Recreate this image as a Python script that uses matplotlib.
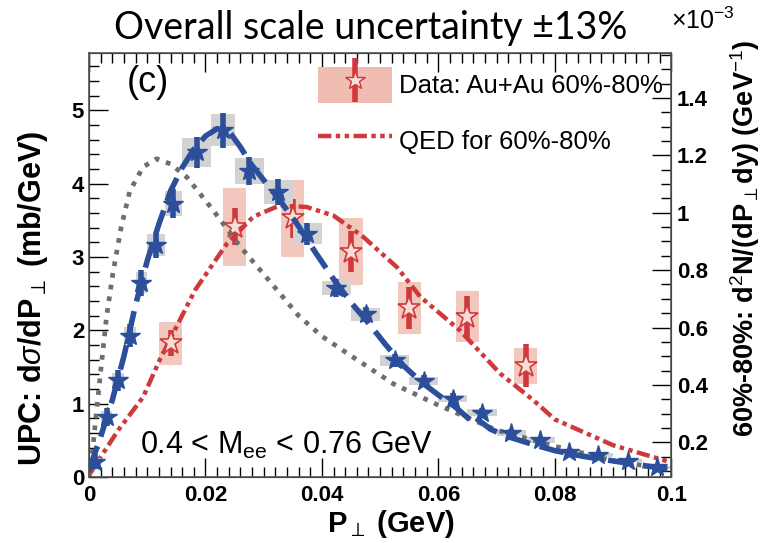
import numpy as np
import matplotlib
matplotlib.use('Agg')
import matplotlib.pyplot as plt
from matplotlib.patches import Rectangle
from matplotlib.lines import Line2D
from matplotlib.legend_handler import HandlerTuple

plt.rcParams['font.family'] = ['Liberation Sans', 'DejaVu Sans']
plt.rcParams['mathtext.fontset'] = 'custom'
plt.rcParams['mathtext.rm'] = 'Liberation Sans'
plt.rcParams['mathtext.bf'] = 'Liberation Sans:bold'
plt.rcParams['mathtext.it'] = 'Liberation Sans:italic'

# UPC data (left axis, mb/GeV)
upc_x = [0.001, 0.003, 0.005, 0.007, 0.009, 0.0115, 0.0145, 0.0185, 0.023, 0.0275,
         0.0325, 0.0375, 0.0425, 0.0475, 0.0525, 0.0575, 0.0625, 0.0675, 0.0725, 0.0775,
         0.0825, 0.0875, 0.0925, 0.0975]
upc_y = [0.21, 0.82, 1.32, 1.93, 2.65, 3.16, 3.73, 4.43, 4.73, 4.17,
         3.89, 3.32, 2.58, 2.22, 1.59, 1.31, 1.07, 0.88, 0.6, 0.5,
         0.34, 0.3, 0.22, 0.13]
upc_stat = [0.1, 0.12, 0.14, 0.16, 0.18, 0.17, 0.2, 0.21, 0.24, 0.19,
            0.18, 0.15, 0.12, 0.1, 0.09, 0.08, 0.07, 0.06, 0.05, 0.05,
            0.04, 0.04, 0.03, 0.03]
upc_sys = [0.05, 0.08, 0.1, 0.12, 0.14, 0.15, 0.17, 0.2, 0.22, 0.18,
           0.16, 0.14, 0.1, 0.09, 0.07, 0.06, 0.05, 0.05, 0.04, 0.04,
           0.03, 0.03, 0.02, 0.02]
upc_halfbin = [0.001, 0.001, 0.001, 0.001, 0.001, 0.0015, 0.0015, 0.0025, 0.002, 0.0025,
               0.0025, 0.0025, 0.0025, 0.0025, 0.0025, 0.0025, 0.0025, 0.0025, 0.0025, 0.0025,
               0.0025, 0.0025, 0.0025, 0.0025]

# Au+Au 60%-80% data (right axis, x 1e-3 GeV^-1)
auau_x = [0.014, 0.025, 0.035, 0.045, 0.055, 0.065, 0.075]
auau_y = [0.545, 0.951, 0.98, 0.864, 0.667, 0.637, 0.466]
auau_stat = [0.045, 0.064, 0.067, 0.072, 0.073, 0.073, 0.075]
auau_sys = [0.075, 0.135, 0.135, 0.117, 0.09, 0.089, 0.063]
auau_halfbin = 0.002

# QED curve for UPC (blue dashed, left axis)
qed_upc_x = [0, 0.002, 0.004, 0.006, 0.008, 0.010, 0.012, 0.014, 0.016, 0.018, 0.020,
             0.022, 0.024, 0.026, 0.028, 0.030, 0.033, 0.036, 0.039, 0.042, 0.045,
             0.048, 0.051, 0.054, 0.057, 0.060, 0.063, 0.066, 0.0662, 0.0665, 0.069,
             0.072, 0.076, 0.080, 0.085, 0.090, 0.095, 0.1]
qed_upc_y = [0.1, 0.55, 1.05, 1.65, 2.35, 2.95, 3.45, 3.9, 4.22, 4.47, 4.65,
             4.75, 4.72, 4.5, 4.25, 4.05, 3.75, 3.42, 3.05, 2.7, 2.38,
             2.1, 1.8, 1.52, 1.3, 1.12, 0.95, 0.74, np.nan, 0.8, 0.65,
             0.55, 0.45, 0.36, 0.28, 0.22, 0.16, 0.1]

# other QED curve (gray dotted, left axis)
qed_gray_x = [0, 0.0005, 0.0013, 0.0022, 0.003, 0.0041, 0.0055, 0.007, 0.0093, 0.0116,
              0.014, 0.0168, 0.0213, 0.026, 0.0305, 0.036, 0.040, 0.0443, 0.0523, 0.06,
              0.07, 0.08, 0.09, 0.1]
qed_gray_y = [0, 0.28, 0.91, 1.59, 2.18, 2.78, 3.4, 3.9, 4.23, 4.34,
              4.27, 4.09, 3.64, 3.14, 2.72, 2.2, 1.92, 1.69, 1.27, 0.98,
              0.64, 0.42, 0.22, 0.1]

# QED for 60%-80% (red, right axis)
qed_cent_x = [0, 0.005, 0.0093, 0.0122, 0.0182, 0.0237, 0.0282, 0.0328, 0.0374, 0.042,
              0.0471, 0.0529, 0.0569, 0.0637, 0.0706, 0.0763, 0.08, 0.09, 0.1]
qed_cent_y = [0.086, 0.242, 0.358, 0.49, 0.73, 0.893, 0.986, 1.026, 1.02, 0.99,
              0.916, 0.81, 0.707, 0.59, 0.44, 0.347, 0.28, 0.19, 0.13]

blue = '#2b4f9b'
red = '#d0393b'
redbox = '#f0bdb3'
graybox = '#d2d2d2'
grayline = '#6e6e6e'

fig = plt.figure(figsize=(7.61, 5.43), dpi=100)
ax = fig.add_axes([0.117, 0.1215, 0.765, 0.7805])
ax2 = ax.twinx()

# gray sys boxes for UPC
for x, y, s, hb in zip(upc_x, upc_y, upc_sys, upc_halfbin):
    ax.add_patch(Rectangle((x - hb, y - s), 2 * hb, 2 * s, color=graybox, lw=0, zorder=1))

ax.plot(qed_gray_x, qed_gray_y, color=grayline, lw=3.4, dashes=(1, 1.5), zorder=2)
ax.plot(qed_upc_x, qed_upc_y, color=blue, lw=4, dashes=(4.5, 1.8), zorder=3)
ax.errorbar(upc_x, upc_y, yerr=upc_stat, fmt='none', ecolor=blue, elinewidth=4, zorder=4)
ax.plot(upc_x, upc_y, ls='none', marker='*', ms=15, color=blue, mec=blue, zorder=5)

# red data on right axis
for x, y, s in zip(auau_x, auau_y, auau_sys):
    ax2.add_patch(Rectangle((x - auau_halfbin, y - s), 2 * auau_halfbin, 2 * s,
                            color=redbox, alpha=0.85, lw=0, zorder=1))
ax2.plot(qed_cent_x, qed_cent_y, color=red, lw=3.2, dashes=(3, 1, 1, 1, 1, 1), zorder=2)
ax2.errorbar(auau_x, auau_y, yerr=auau_stat, fmt='none', ecolor=red, elinewidth=4, zorder=3)
ax2.plot(auau_x, auau_y, ls='none', marker='*', ms=17, mfc='#f8dcd6', mec=red, mew=1.2, zorder=4)

ax.set_xlim(0, 0.1)
ax.set_ylim(0, 5.78)
ax2.set_ylim(0.079, 1.556)

ax.set_xticks([0, 0.02, 0.04, 0.06, 0.08, 0.1])
ax.set_xticklabels(['0', '0.02', '0.04', '0.06', '0.08', '0.1'])
ax.set_xticks(np.arange(0, 0.1001, 0.002), minor=True)
ax.set_yticks([0, 1, 2, 3, 4, 5])
ax.set_yticks(np.arange(0, 5.78, 0.2), minor=True)
ax2.set_yticks([0.2, 0.4, 0.6, 0.8, 1.0, 1.2, 1.4])
ax2.set_yticklabels(['0.2', '0.4', '0.6', '0.8', '1', '1.2', '1.4'])
ax2.set_yticks(np.arange(0.1, 1.556, 0.05), minor=True)

for a in (ax, ax2):
    a.tick_params(which='both', direction='in', labelsize=16)
    a.tick_params(which='major', length=14, width=1)
    a.tick_params(which='minor', length=7, width=1)
ax.tick_params(axis='x', which='both', top=True, pad=6)
ax.tick_params(axis='y', which='both', right=False)
ax2.tick_params(axis='y', which='both', left=False, right=True, pad=4)
for lab in ax.get_xticklabels() + ax.get_yticklabels() + ax2.get_yticklabels():
    lab.set_fontweight('bold')
for sp in ax.spines.values():
    sp.set_color('#555555')
    sp.set_linewidth(1.2)

fig.text(0.513, 0.035, r'P$_{\perp}$ (GeV)', fontsize=21, fontweight='bold',
         ha='center', va='center')
fig.text(0.043, 0.45, r'UPC: d$\sigma$/dP$_{\perp}$ (mb/GeV)', fontsize=22,
         fontweight='bold', rotation=90, ha='center', va='center')
fig.text(0.979, 0.562, r'60%-80%: d$^{2}$N/(dP$_{\perp}$dy) (GeV$^{-1}$)', fontsize=19.5,
         fontweight='bold', rotation=90, ha='center', va='center')

fig.text(0.487, 0.948, 'Overall scale uncertainty \u00b113%', family=['Lato', 'DejaVu Sans'],
         fontsize=27, ha='center', va='center')
fig.text(0.882, 0.962, r'$\times$10$^{-3}$', fontsize=18, ha='left', va='center')
ax.text(0.065, 0.93, '(c)', transform=ax.transAxes, fontsize=26, ha='left', va='center')
ax.text(0.087, 0.075, r'0.4 < M$_{\rm ee}$ < 0.76 GeV', transform=ax.transAxes,
        fontsize=22, ha='left', va='center')

data_handle = (Rectangle((0, 0), 1, 1, color=redbox, lw=0),
               Line2D([], [], ls='none', marker='|', ms=32, mew=4, color=red),
               Line2D([], [], ls='none', marker='*', ms=15, mfc='#f8dcd6', mec=red, mew=1))
qed_handle = Line2D([], [], color=red, lw=3.2, dashes=(3, 1, 1, 1, 1, 1))
leg = ax.legend([data_handle, qed_handle], ['Data: Au+Au 60%-80%', 'QED for 60%-80%'],
                handler_map={tuple: HandlerTuple(ndivide=1, pad=0)},
                loc='upper left', bbox_to_anchor=(0.393, 0.967), frameon=False,
                fontsize=18.5, handlelength=2.9, handleheight=1.75, labelspacing=0.78,
                handletextpad=0.25, borderpad=0, borderaxespad=0)
ax2.set_zorder(ax.get_zorder() - 1)
ax.patch.set_visible(False)

fig.savefig('out.png', dpi=100)
